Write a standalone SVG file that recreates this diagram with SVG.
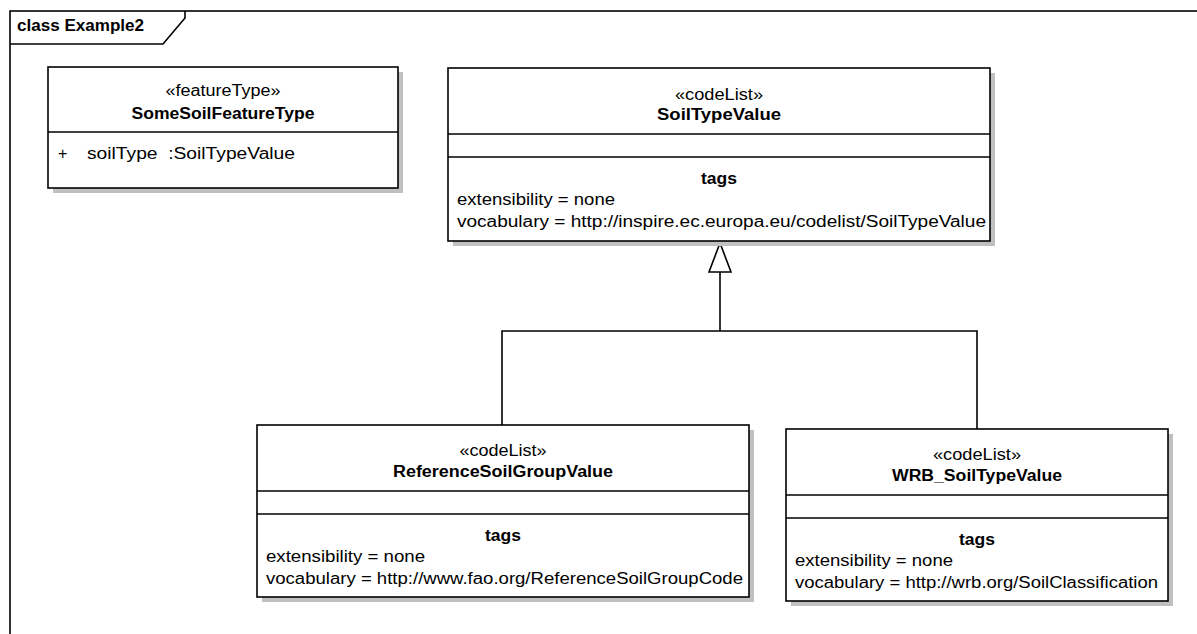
<svg xmlns="http://www.w3.org/2000/svg" width="1197" height="634" viewBox="0 0 1197 634">
<defs>
<style>
.sh{fill:#c0c0c0;stroke:none}
.bx{fill:#fff;stroke:#000;stroke-width:1.6}
.dv{stroke:#000;stroke-width:1.6}
.t{font-family:"Liberation Sans",Arial,sans-serif;font-size:16px;fill:#000}
.b{font-weight:bold}
.c{text-anchor:middle}
.ln{fill:none;stroke:#000;stroke-width:1.6}
</style>
</defs>
<rect width="1197" height="634" fill="#fff"/>
<g id="frame">
<rect x="10" y="11" width="1200" height="640" class="ln"/>
<path d="M10,44 H163 L185,18 V11" class="ln"/>
<text x="17" y="31" class="t b" textLength="127" lengthAdjust="spacingAndGlyphs">class Example2</text>
</g>
<g id="connectors">
<path d="M502,425 V331 H977 V429" class="ln"/>
<path d="M720,331 V272" class="ln"/>
<polygon points="720,243 709,272 731,272" fill="#fff" stroke="#000" stroke-width="1.6"/>
</g>
<g id="SomeSoilFeatureType">
<rect x="53" y="72" width="350" height="121" class="sh"/>
<rect x="48" y="67" width="350" height="121" class="bx"/>
<line x1="48" y1="132" x2="398" y2="132" class="dv"/>
<text x="223" y="96" class="t c" textLength="115" lengthAdjust="spacingAndGlyphs">«featureType»</text>
<text x="223" y="119" class="t c b" textLength="183" lengthAdjust="spacingAndGlyphs">SomeSoilFeatureType</text>
<text x="58" y="159" class="t">+</text>
<text x="87" y="159" class="t" textLength="208" lengthAdjust="spacingAndGlyphs">soilType&#160;&#160;:SoilTypeValue</text>
</g>
<g id="SoilTypeValue">
<rect x="453" y="73" width="542" height="173" class="sh"/>
<rect x="448" y="68" width="542" height="173" class="bx"/>
<line x1="448" y1="134" x2="990" y2="134" class="dv"/>
<line x1="448" y1="157" x2="990" y2="157" class="dv"/>
<text x="719" y="100" class="t c" textLength="88" lengthAdjust="spacingAndGlyphs">«codeList»</text>
<text x="719" y="120" class="t c b" textLength="124" lengthAdjust="spacingAndGlyphs">SoilTypeValue</text>
<text x="719" y="184" class="t c b" textLength="36" lengthAdjust="spacingAndGlyphs">tags</text>
<text x="457" y="205" class="t" textLength="158" lengthAdjust="spacingAndGlyphs">extensibility = none</text>
<text x="457" y="227" class="t" textLength="529" lengthAdjust="spacingAndGlyphs">vocabulary = http://inspire.ec.europa.eu/codelist/SoilTypeValue</text>
</g>
<g id="ReferenceSoilGroupValue">
<rect x="262" y="430" width="492" height="172" class="sh"/>
<rect x="257" y="425" width="492" height="172" class="bx"/>
<line x1="257" y1="491" x2="749" y2="491" class="dv"/>
<line x1="257" y1="514" x2="749" y2="514" class="dv"/>
<text x="503" y="456" class="t c" textLength="87" lengthAdjust="spacingAndGlyphs">«codeList»</text>
<text x="503" y="477" class="t c b" textLength="220" lengthAdjust="spacingAndGlyphs">ReferenceSoilGroupValue</text>
<text x="503" y="541" class="t c b" textLength="36" lengthAdjust="spacingAndGlyphs">tags</text>
<text x="266" y="562" class="t" textLength="159" lengthAdjust="spacingAndGlyphs">extensibility = none</text>
<text x="266" y="584" class="t" textLength="477" lengthAdjust="spacingAndGlyphs">vocabulary = http://www.fao.org/ReferenceSoilGroupCode</text>
</g>
<g id="WRB_SoilTypeValue">
<rect x="791" y="434" width="382" height="172" class="sh"/>
<rect x="786" y="429" width="382" height="172" class="bx"/>
<line x1="786" y1="495" x2="1168" y2="495" class="dv"/>
<line x1="786" y1="518" x2="1168" y2="518" class="dv"/>
<text x="977" y="460" class="t c" textLength="88" lengthAdjust="spacingAndGlyphs">«codeList»</text>
<text x="977" y="481" class="t c b" textLength="170" lengthAdjust="spacingAndGlyphs">WRB_SoilTypeValue</text>
<text x="977" y="545" class="t c b" textLength="36" lengthAdjust="spacingAndGlyphs">tags</text>
<text x="795" y="566" class="t" textLength="158" lengthAdjust="spacingAndGlyphs">extensibility = none</text>
<text x="795" y="588" class="t" textLength="363" lengthAdjust="spacingAndGlyphs">vocabulary = http://wrb.org/SoilClassification</text>
</g>
</svg>
